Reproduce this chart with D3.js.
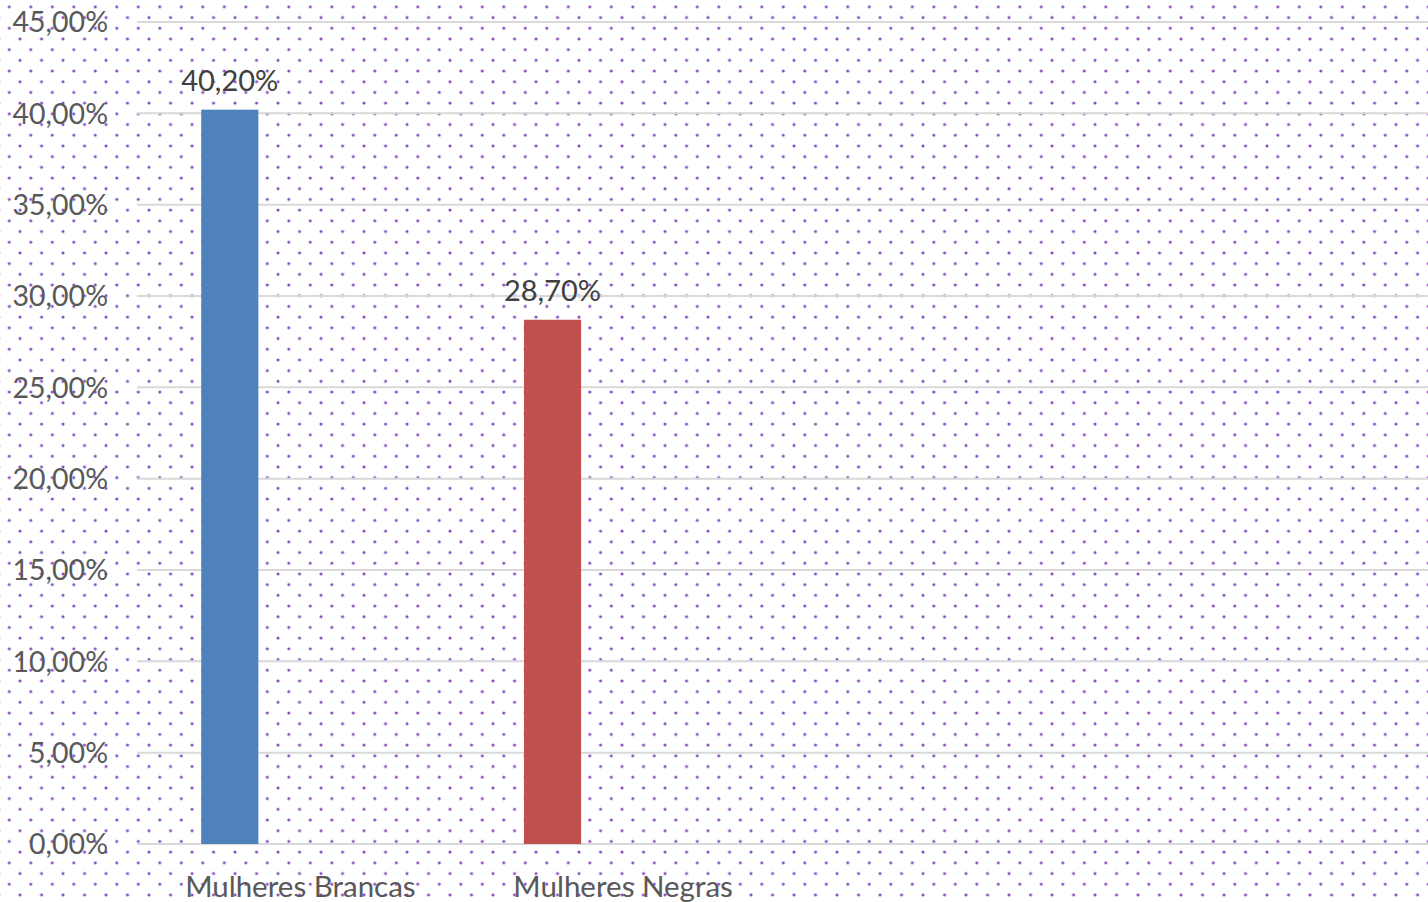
<!DOCTYPE html>
<html>
<head>
<meta charset="utf-8">
<script src="https://cdn.jsdelivr.net/npm/d3@7"></script>
<style>
html,body{margin:0;padding:0;background:#fff;}
svg{display:block;}
</style>
</head>
<body>
<script>
const categories = ["Mulheres Brancas", "Mulheres Negras", "", " "];
const values = [0.402, 0.287, null, null];
const barColors = ["#4f81bd", "#c0504d", "#4f81bd", "#4f81bd"];
const valueLabels = ["40,20%", "28,70%", "", ""];
const yTicks = [0, 0.05, 0.10, 0.15, 0.20, 0.25, 0.30, 0.35, 0.40, 0.45];
const yTickLabels = ["0,00%", "5,00%", "10,00%", "15,00%", "20,00%", "25,00%", "30,00%", "35,00%", "40,00%", "45,00%"];

const W = 1428, H = 902;
const plot = {left: 137, right: 1428, top: 22, bottom: 844};

const svg = d3.select("body").append("svg").attr("width", W).attr("height", H);

// dotted background pattern
const defs = svg.append("defs");
const pat = defs.append("pattern").attr("id", "dots").attr("patternUnits", "userSpaceOnUse")
  .attr("width", 21.5).attr("height", 21.4).attr("x", -1.45).attr("y", -3.9);
const dotR = 1.55, dotC = "#8546c6";
[[10.75, 10.7], [0, 0], [21.5, 0], [0, 21.4], [21.5, 21.4]].forEach(([cx, cy]) =>
  pat.append("circle").attr("cx", cx).attr("cy", cy).attr("r", dotR).attr("fill", dotC));
svg.append("rect").attr("width", W).attr("height", H).attr("fill", "#fff");
svg.append("rect").attr("width", W).attr("height", H).attr("fill", "url(#dots)");

const y = d3.scaleLinear().domain([0, 0.45]).range([plot.bottom, plot.top]);
const x = d3.scaleBand().domain(categories).range([plot.left, plot.right]).padding(0);

// gridlines
svg.append("g").selectAll("line").data(yTicks).join("line")
  .attr("x1", plot.left).attr("x2", plot.right)
  .attr("y1", d => y(d)).attr("y2", d => y(d))
  .attr("stroke", "#d9d9d9").attr("stroke-width", 2);

// y axis labels
const yAxis = d3.axisLeft(y).tickValues(yTicks).tickFormat((d, i) => yTickLabels[i]).tickSize(0).tickPadding(0);
const gy = svg.append("g").attr("transform", `translate(108,0)`).call(yAxis);
gy.select(".domain").remove();
gy.selectAll("text").attr("font-family", "Lato, 'Open Sans', sans-serif").attr("font-size", 28.5)
  .attr("fill", "#595959").attr("dy", "0.35em");

// bars
const bw = x.bandwidth();
const barW = bw * 0.177;
const barOff = bw * 0.199;
const data = categories.map((c, i) => ({c, v: values[i], color: barColors[i], label: valueLabels[i]})).filter(d => d.v != null);

svg.append("g").selectAll("rect").data(data).join("rect")
  .attr("x", d => x(d.c) + barOff)
  .attr("width", barW)
  .attr("y", d => y(d.v))
  .attr("height", d => y(0) - y(d.v))
  .attr("fill", d => d.color);

svg.append("g").selectAll("text").data(data).join("text")
  .attr("x", d => x(d.c) + barOff + barW / 2)
  .attr("y", d => y(d.v) - 19)
  .attr("text-anchor", "middle")
  .attr("font-family", "Lato, 'Open Sans', sans-serif").attr("font-size", 29)
  .attr("fill", "#404040")
  .text(d => d.label);

// x axis labels
const xAxis = d3.axisBottom(x).tickSize(0).tickPadding(0);
const gx = svg.append("g").attr("transform", `translate(2,${plot.bottom})`).call(xAxis);
gx.select(".domain").remove();
gx.selectAll("text").attr("font-family", "Lato, 'Open Sans', sans-serif").attr("font-size", 29.5)
  .attr("fill", "#595959").attr("dy", 0).attr("y", 53);
</script>
</body>
</html>
